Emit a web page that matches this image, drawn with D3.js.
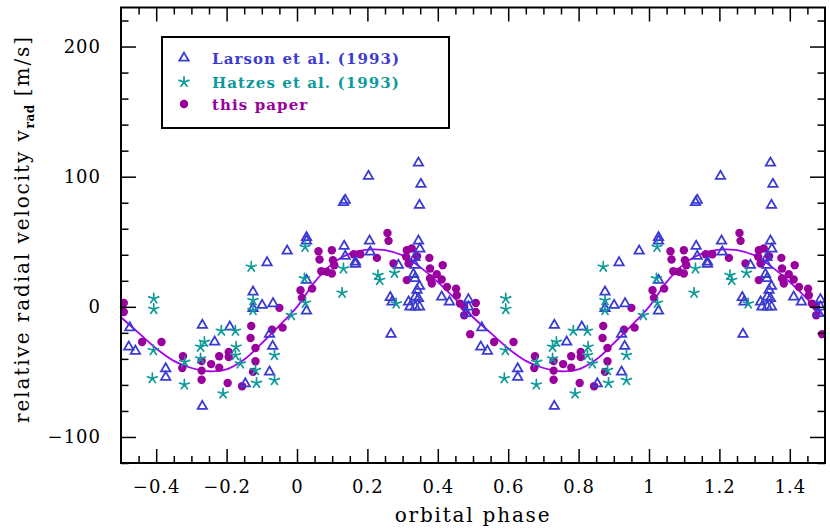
<!DOCTYPE html>
<html><head><meta charset="utf-8">
<script src="https://cdn.jsdelivr.net/npm/d3@7"></script>
<style>
html,body{margin:0;padding:0;background:#fff;}
svg text{font-family:"DejaVu Serif",serif;}
</style></head>
<body><svg id="c" width="830" height="530"></svg>
<script>
// ---- data (one orbital cycle, phase in [-0.5,0.5); plotted twice) ----
const larson = [
 [-0.475,-16],[-0.478,-30.8],[-0.459,-34],[-0.373,-47.5],[-0.373,-54],[-0.269,-14.1],
 [-0.269,-76.4],[-0.234,-27],[-0.191,-15.4],[-0.147,-59],[-0.078,-21],[-0.069,-30.3],
 [-0.078,-50],[-0.028,43],[-0.085,34],[-0.125,11.5],[-0.125,-1.3],[-0.099,1.2],[-0.068,2.5],
 [0.345,110.6],[0.203,100.4],[0.352,94.3],[0.348,78.1],[0.137,82],[0.132,80.2],
 [0.027,53.3],[0.027,50.7],[0.206,50.7],[0.208,42.2],[0.134,46.6],[0.137,38.9],
 [0.166,34.5],[0.166,32.8],[0.345,50.7],[0.349,44.5],[0.335,37.9],[0.335,32],
 [0.331,25],[0.335,21.8],[0.288,32],[0.348,15.8],[0.341,12.8],[0.265,7.2],[0.270,3.8],
 [0.317,3.8],[0.336,7.6],[0.345,6.4],[0.321,0],[0.336,0],[0.348,0],[0.411,7.6],
 [0.433,3.8],[0.487,5.6],[0.487,0],[0.482,-5.1],[0.267,-21],[0.027,-3.1],[0.027,20.5]
];
const hatzes = [
 [-0.407,6.4],[-0.407,-1.8],[-0.408,-33.4],[-0.411,-55],[-0.319,-42.4],[-0.320,-59.8],
 [-0.274,-30.8],[-0.263,-27],[-0.274,-39.8],[-0.215,-18.5],[-0.175,-18.5],[-0.173,-30.8],
 [-0.175,-37.2],[-0.161,-43.6],[-0.210,-66.7],[-0.130,30.7],[-0.125,5],[-0.125,-2.6],
 [-0.118,-48.7],[-0.115,-58.5],[-0.064,-37.2],[-0.064,-56.4],[-0.016,-6.5],
 [0.023,46],[0.132,29.4],[0.128,10.7],[0.230,24.3],[0.235,20.5],[0.277,26],[0.282,2.5],
 [0.021,21.8],[0.024,3]
];
const thisPaper = [
 [-0.492,3],[-0.492,-4],[-0.44,-27],[-0.385,-27],[-0.324,-38],[-0.326,-47],[-0.271,-41.6],
 [-0.271,-49],[-0.271,-56],[-0.244,-44],[-0.221,-38],[-0.221,-46.7],[-0.194,-34.7],
 [-0.194,-38.5],[-0.197,-58.5],[-0.156,-61],[-0.130,-14.7],[-0.132,-24],[-0.118,-31.6],
 [-0.118,-41.8],[-0.125,-50],[-0.071,-17.5],[-0.041,-16],[-0.05,-0.8],
 [0.010,12.8],[0.014,6.9],[0.043,14],[0.061,42.7],[0.064,36.4],[0.069,27.4],[0.085,26.9],
 [0.099,25.6],[0.099,43.5],[0.102,35.8],[0.106,32],[0.161,40.4],[0.180,40.4],[0.227,37.6],
 [0.257,56.8],[0.260,50.7],[0.274,33.3],[0.310,38.4],[0.312,43.5],[0.326,44.8],[0.317,33.3],
 [0.312,20.5],[0.341,38.9],[0.376,37.6],[0.378,29.4],[0.397,25],[0.378,21.8],[0.411,21],
 [0.383,17.9],[0.414,32],[0.426,15.3],[0.452,14],[0.454,8.9],[0.463,2.5],[0.475,0],
 [0.475,-6.5],[0.492,-21]
];
const curvePhase = [-0.5,-0.45,-0.4,-0.35,-0.3,-0.25,-0.2,-0.15,-0.1,-0.05,0,0.05,0.1,0.15,0.2,0.25,0.3,0.35,0.4,0.45,0.5];
const curveVel   = [-8,-20,-32,-41.5,-47,-49.5,-48,-40.5,-28,-14.5,0,19,33,41,44,43.5,39.5,30.5,19,6,-8];
const xTicks = [-0.4,-0.2,0,0.2,0.4,0.6,0.8,1,1.2,1.4];
const xTickLabels = ["\u22120.4","\u22120.2","0","0.2","0.4","0.6","0.8","1","1.2","1.4"];
const yTicks = [-100,0,100,200];
const yTickLabels = ["\u2212100","0","100","200"];
const legendLabels = ["Larson et al. (1993)","Hatzes et al. (1993)","this paper"];

// ---- styles ----
const colLarson = "#3b3bd4", colHatzes = "#0d9a9a", colPaper = "#99009c", colCurve = "#a400f2";

const svg = d3.select("#c");
svg.append("rect").attr("width",830).attr("height",530).attr("fill","#fff");
const L=121, R=825, T=7.5, B=463;
const x = d3.scaleLinear().domain([-0.5,1.5]).range([L,R]);
const y = d3.scaleLinear().domain([-120,230]).range([B,T]);

svg.append("defs").append("clipPath").attr("id","clip")
  .append("rect").attr("x",L).attr("y",T).attr("width",R-L).attr("height",B-T);

const plot = svg.append("g").attr("clip-path","url(#clip)");

// fitted curve, two cycles
const curvePts = [];
[0,1].forEach(k=>curvePhase.forEach((p,i)=>{ if(k===1 && i===0) return; curvePts.push([p+k, curveVel[i]]); }));
plot.append("path").datum(curvePts)
  .attr("d", d3.line().x(d=>x(d[0])).y(d=>y(d[1])).curve(d3.curveCatmullRom.alpha(0.5)))
  .attr("fill","none").attr("stroke",colCurve).attr("stroke-width",1.8);

const twice = arr => arr.flatMap(d=>[[d[0],d[1]],[d[0]+1,d[1]]]);

// this paper: filled circles
plot.append("g").selectAll("circle").data(twice(thisPaper)).join("circle")
  .attr("cx",d=>x(d[0])).attr("cy",d=>y(d[1])).attr("r",4.2).attr("fill",colPaper);

// Larson: open triangles
const tri = d3.symbol().type(d3.symbolTriangle).size(38);
plot.append("g").selectAll("path").data(twice(larson)).join("path")
  .attr("d",tri).attr("transform",d=>`translate(${x(d[0])},${y(d[1])})`)
  .attr("fill","none").attr("stroke",colLarson).attr("stroke-width",1.8);

// Hatzes: 5-armed asterisks
const starPath = (r)=>{ let s=""; for(let k=0;k<5;k++){ const a=-Math.PI/2 + k*2*Math.PI/5; s+=`M0,0L${(r*Math.cos(a)).toFixed(2)},${(r*Math.sin(a)).toFixed(2)}`; } return s; };
plot.append("g").selectAll("path").data(twice(hatzes)).join("path")
  .attr("d",starPath(5.2)).attr("transform",d=>`translate(${x(d[0])},${y(d[1])})`)
  .attr("fill","none").attr("stroke",colHatzes).attr("stroke-width",1.7).attr("stroke-linecap","round");

// ---- axes ----
const xMinor = d3.range(-9,30).filter(i=>i%4!==0).map(i=>i*0.05);
const yMinor = d3.range(-6,12).filter(i=>i%5!==0).map(i=>i*20);
function styleAxis(g){ g.select(".domain").remove(); g.selectAll("line").attr("stroke","#000").attr("stroke-width",1.5);
  g.selectAll("text").attr("fill","#000").style("font-size","18px").style("font-family","DejaVu Serif").style("letter-spacing","1px"); }

svg.append("g").attr("transform",`translate(0,${B})`)
  .call(d3.axisBottom(x).tickValues(xTicks).tickFormat((d,i)=>xTickLabels[i]).tickSize(-14).tickPadding(17)).call(styleAxis);
svg.append("g").attr("transform",`translate(0,${B})`)
  .call(d3.axisBottom(x).tickValues(xMinor).tickFormat("").tickSize(-7)).call(styleAxis);
svg.append("g").attr("transform",`translate(0,${T})`)
  .call(d3.axisTop(x).tickValues(xTicks).tickFormat("").tickSize(-14)).call(styleAxis);
svg.append("g").attr("transform",`translate(0,${T})`)
  .call(d3.axisTop(x).tickValues(xMinor).tickFormat("").tickSize(-7)).call(styleAxis);
svg.append("g").attr("transform",`translate(${L},0)`)
  .call(d3.axisLeft(y).tickValues(yTicks).tickFormat((d,i)=>yTickLabels[i]).tickSize(-15).tickPadding(20)).call(styleAxis);
svg.append("g").attr("transform",`translate(${L},0)`)
  .call(d3.axisLeft(y).tickValues(yMinor).tickFormat("").tickSize(-7.5)).call(styleAxis);
svg.append("g").attr("transform",`translate(${R},0)`)
  .call(d3.axisRight(y).tickValues(yTicks).tickFormat("").tickSize(-15)).call(styleAxis);
svg.append("g").attr("transform",`translate(${R},0)`)
  .call(d3.axisRight(y).tickValues(yMinor).tickFormat("").tickSize(-7.5)).call(styleAxis);

svg.append("rect").attr("x",L).attr("y",T).attr("width",R-L).attr("height",B-T)
  .attr("fill","none").attr("stroke","#000").attr("stroke-width",2);

// axis titles
svg.append("text").attr("x",(L+R)/2).attr("y",522).attr("text-anchor","middle")
  .style("font-size","20px").style("letter-spacing","1.8px").text("orbital phase");
const yl = svg.append("text").attr("transform","translate(29,229) rotate(-90)").attr("text-anchor","middle")
  .style("font-size","20px").style("letter-spacing","1.9px");
yl.append("tspan").text("relative radial velocity v");
yl.append("tspan").attr("dy",5).style("font-size","12px").style("font-weight","bold").style("letter-spacing","0.5px").text("rad");
yl.append("tspan").attr("dy",-5).text(" [m/s]");

// legend
svg.append("rect").attr("x",162).attr("y",37).attr("width",287).attr("height",91)
  .attr("fill","#fff").attr("stroke","#000").attr("stroke-width",2);
const legY = [58,82,104];
const legCols = [colLarson,colHatzes,colPaper];
svg.append("path").attr("d",tri).attr("transform",`translate(184,${legY[0]})`)
  .attr("fill","none").attr("stroke",colLarson).attr("stroke-width",1.8);
svg.append("path").attr("d",starPath(5.2)).attr("transform",`translate(184,${legY[1]})`)
  .attr("fill","none").attr("stroke",colHatzes).attr("stroke-width",1.7).attr("stroke-linecap","round");
svg.append("circle").attr("cx",184).attr("cy",legY[2]).attr("r",4.2).attr("fill",colPaper);
legendLabels.forEach((t,i)=>{
  svg.append("text").attr("x",212).attr("y",legY[i]+5.5).attr("fill",legCols[i])
    .style("font-size","15px").style("letter-spacing","1.1px").style("font-weight","bold").text(t);
});
</script></body></html>
